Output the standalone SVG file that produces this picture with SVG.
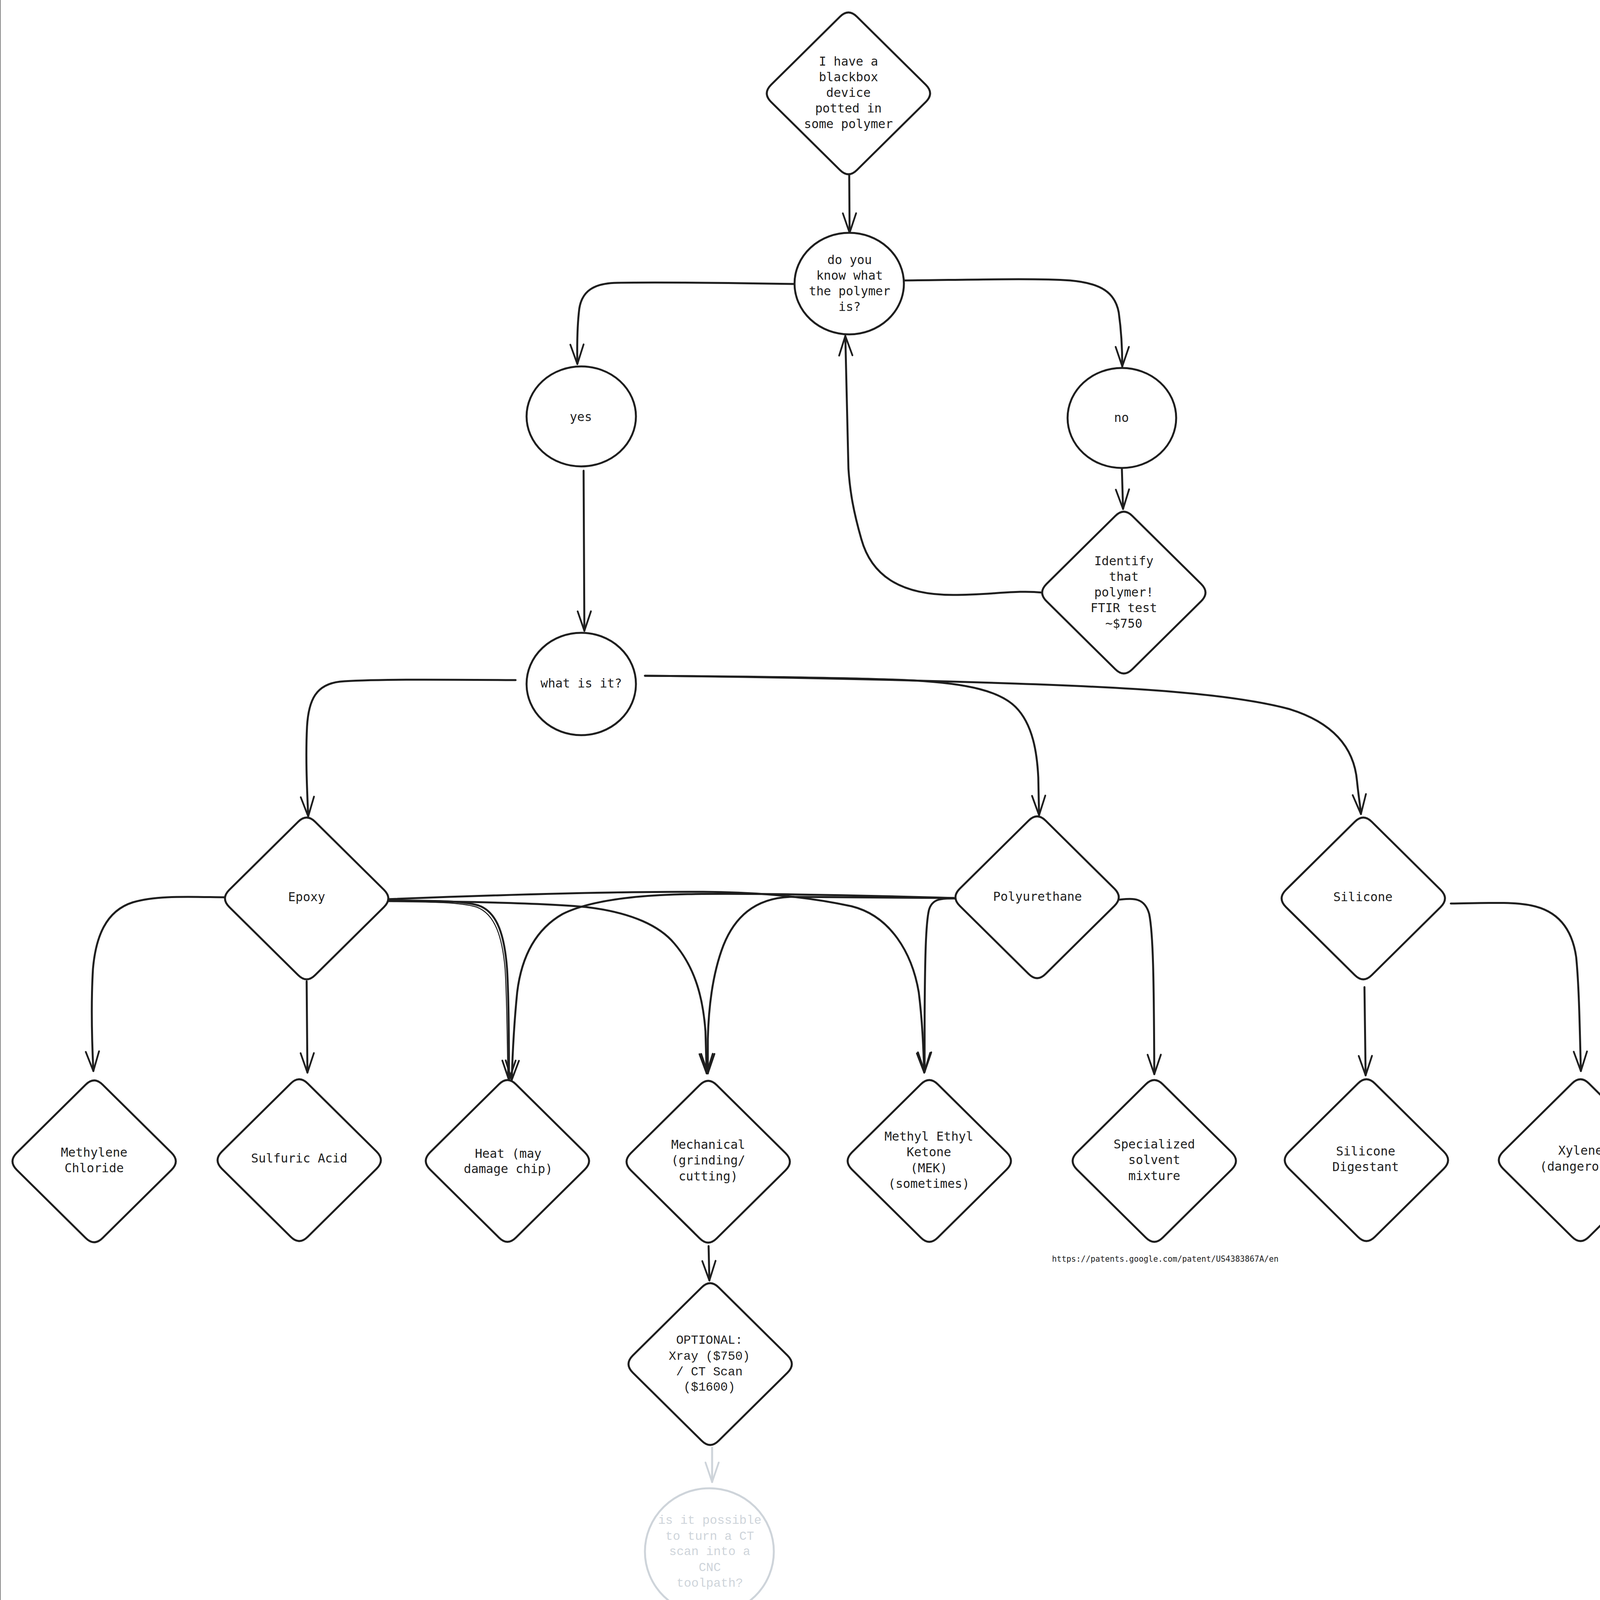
<svg xmlns="http://www.w3.org/2000/svg" xmlns:xlink="http://www.w3.org/1999/xlink" width="4287" height="4155" viewBox="0 0 4287 4155">
<style>
.sh{fill:#ffffff;stroke:#1e1e1e;stroke-width:5;stroke-linejoin:round}
.fs{fill:#ffffff;stroke:#ced4da;stroke-width:5}
.t{font-family:"DejaVu Sans Mono","Liberation Mono",monospace;font-size:31.5px;fill:#1e1e1e;text-anchor:middle}
.t2{font-family:"Liberation Mono","DejaVu Sans Mono",monospace;font-size:31.5px;fill:#1e1e1e;text-anchor:middle}
.tf{font-family:"Liberation Mono","DejaVu Sans Mono",monospace;font-size:31.5px;fill:#ced4da;text-anchor:middle}
.url{font-family:"DejaVu Sans Mono","Liberation Mono",monospace;font-size:20.5px;fill:#1e1e1e}
.c{fill:none;stroke:#1e1e1e;stroke-width:5;stroke-linecap:round;stroke-linejoin:round;marker-end:url(#ah)}
.cf{fill:none;stroke:#ced4da;stroke-width:5;stroke-linecap:round;marker-end:url(#ahf)}
</style>
<defs>
<path id="dia" d="M22,-196 L198,-22 Q220,0 198,22 L22,196 Q0,218 -22,196 L-198,22 Q-220,0 -198,-22 L-22,-196 Q0,-218 22,-196 Z"/>
<marker id="ah" markerUnits="userSpaceOnUse" markerWidth="120" markerHeight="120" viewBox="-60 -60 120 120" refX="0" refY="0" orient="auto" overflow="visible">
<path d="M-50,-17 L0,0 L-50,17" fill="none" stroke="#1e1e1e" stroke-width="4.5" stroke-linecap="round" stroke-linejoin="round"/>
</marker>
<marker id="ahf" markerUnits="userSpaceOnUse" markerWidth="120" markerHeight="120" viewBox="-60 -60 120 120" refX="0" refY="0" orient="auto" overflow="visible">
<path d="M-50,-17 L0,0 L-50,17" fill="none" stroke="#ced4da" stroke-width="4.5" stroke-linecap="round" stroke-linejoin="round"/>
</marker>
</defs>
<rect x="0" y="0" width="4287" height="4155" fill="#ffffff"/>
<line x1="1" y1="0" x2="1" y2="4155" stroke="#8a8a8a" stroke-width="2"/>
<line x1="4286" y1="0" x2="4286" y2="4155" stroke="#8a8a8a" stroke-width="2"/>

<g id="connectors">
<path class="c" d="M2174 448 L2175 596"/>
<path class="c" d="M2033 727 C1850 724 1700 722 1580 724 C1520 725 1490 745 1483 790 C1478 830 1477 880 1478 932"/>
<path class="c" d="M2316 718 C2500 716 2650 712 2740 718 C2820 725 2855 750 2864 800 C2871 850 2873 900 2873 938"/>
<path class="c" d="M1494 1205 L1496 1615"/>
<path class="c" d="M2872 1200 L2875 1303"/>
<path class="c" d="M2668 1517 C2600 1510 2540 1523 2440 1523 C2300 1523 2230 1470 2205 1380 C2185 1310 2176 1260 2172 1200 L2164 860"/>
<path class="c" d="M1320 1741 C1150 1740 950 1738 870 1745 C810 1752 790 1790 786 1860 C782 1940 786 2020 789 2090"/>
<path class="c" d="M1651 1730 C1950 1732 2200 1735 2340 1742 C2480 1750 2560 1770 2600 1810 C2645 1855 2655 1930 2658 1990 L2660 2087"/>
<path class="c" d="M1651 1730 C2000 1733 2300 1740 2600 1750 C2900 1760 3150 1775 3300 1815 C3430 1855 3468 1930 3474 2000 C3478 2040 3482 2060 3484 2084"/>
<path class="c" d="M574 2297 C480 2296 400 2292 340 2310 C270 2332 245 2400 238 2480 C232 2580 236 2680 239 2742"/>
<path class="c" d="M785 2512 L787 2746"/>
<path class="c" d="M993 2305 C1100 2306 1180 2305 1225 2318 C1275 2335 1292 2400 1298 2480 C1303 2560 1303 2680 1303 2765"/>
<path fill="none" stroke="#1e1e1e" stroke-width="2.5" d="M993 2308 C1100 2309 1175 2309 1220 2322 C1268 2340 1286 2400 1293 2480 C1298 2560 1299 2680 1300 2760"/>
<path class="c" d="M2442 2299 C2200 2292 1950 2286 1760 2289 C1600 2292 1500 2310 1440 2340 C1370 2380 1335 2450 1324 2540 C1316 2620 1312 2700 1310 2765"/>
<path class="c" d="M993 2306 C1200 2308 1400 2312 1500 2322 C1620 2336 1690 2372 1726 2415 C1782 2480 1800 2560 1806 2640 L1809 2748"/>
<path class="c" d="M2442 2299 L2022 2296 C1930 2300 1880 2350 1852 2420 C1823 2495 1814 2580 1812 2660 L1812 2748"/>
<path class="c" d="M991 2302 C1300 2290 1600 2282 1800 2283 C1950 2284 2080 2298 2180 2320 C2280 2345 2335 2440 2352 2540 C2362 2620 2364 2690 2366 2746"/>
<path class="c" d="M2444 2300 C2410 2300 2386 2300 2378 2330 C2370 2365 2368 2450 2367 2600 L2367 2744"/>
<path class="c" d="M2866 2303 C2900 2300 2930 2296 2942 2340 C2952 2390 2954 2500 2955 2750"/>
<path class="c" d="M3493 2527 L3496 2753"/>
<path class="c" d="M3714 2313 C3800 2312 3870 2308 3920 2318 C3990 2332 4025 2380 4035 2450 C4042 2520 4044 2620 4047 2742"/>
<path class="c" d="M1814 3190 L1816 3278"/>
<path class="cf" d="M1823 3706 L1823 3794"/>
</g>

<g id="n-start">
<use href="#dia" class="sh" x="2172" y="239"/>
<text class="t" x="2172" y="168">I have a</text>
<text class="t" x="2172" y="208">blackbox</text>
<text class="t" x="2172" y="248">device</text>
<text class="t" x="2172" y="288">potted in</text>
<text class="t" x="2172" y="328">some polymer</text>
</g>
<g id="n-know">
<ellipse class="sh" cx="2174" cy="726" rx="140" ry="130"/>
<text class="t" x="2175" y="676">do you</text>
<text class="t" x="2175" y="716">know what</text>
<text class="t" x="2175" y="756">the polymer</text>
<text class="t" x="2175" y="796">is?</text>
</g>
<g id="n-yes">
<ellipse class="sh" cx="1488" cy="1066" rx="140" ry="128"/>
<text class="t" x="1487" y="1078">yes</text>
</g>
<g id="n-no">
<ellipse class="sh" cx="2872" cy="1070" rx="139" ry="128"/>
<text class="t" x="2871" y="1080">no</text>
</g>
<g id="n-identify">
<use href="#dia" class="sh" x="2877" y="1517"/>
<text class="t" x="2877" y="1447">Identify</text>
<text class="t" x="2877" y="1487">that</text>
<text class="t" x="2877" y="1527">polymer!</text>
<text class="t" x="2877" y="1567">FTIR test</text>
<text class="t" x="2877" y="1607">~$750</text>
</g>
<g id="n-what">
<ellipse class="sh" cx="1488" cy="1751" rx="140" ry="131"/>
<text class="t" x="1488" y="1760">what is it?</text>
</g>
<g id="n-epoxy">
<use href="#dia" class="sh" x="785" y="2300"/>
<text class="t" x="785" y="2307">Epoxy</text>
</g>
<g id="n-polyurethane">
<use href="#dia" class="sh" x="2655" y="2297"/>
<text class="t" x="2656" y="2306">Polyurethane</text>
</g>
<g id="n-silicone">
<use href="#dia" class="sh" x="3490" y="2300"/>
<text class="t" x="3489" y="2307">Silicone</text>
</g>
<g id="n-methylene">
<use href="#dia" class="sh" x="241" y="2973"/>
<text class="t" x="241" y="2961">Methylene</text>
<text class="t" x="241" y="3001">Chloride</text>
</g>
<g id="n-sulfuric">
<use href="#dia" class="sh" x="766" y="2970"/>
<text class="t" x="766" y="2976">Sulfuric Acid</text>
</g>
<g id="n-heat">
<use href="#dia" class="sh" x="1299" y="2972"/>
<text class="t" x="1301" y="2964">Heat (may</text>
<text class="t" x="1301" y="3003">damage chip)</text>
</g>
<g id="n-mechanical">
<use href="#dia" class="sh" x="1813" y="2974"/>
<text class="t" x="1813" y="2941">Mechanical</text>
<text class="t" x="1813" y="2981">(grinding/</text>
<text class="t" x="1813" y="3022">cutting)</text>
</g>
<g id="n-mek">
<use href="#dia" class="sh" x="2379" y="2972"/>
<text class="t" x="2378" y="2920">Methyl Ethyl</text>
<text class="t" x="2378" y="2960">Ketone</text>
<text class="t" x="2378" y="3001">(MEK)</text>
<text class="t" x="2378" y="3041">(sometimes)</text>
</g>
<g id="n-specialized">
<use href="#dia" class="sh" x="2955" y="2972"/>
<text class="t" x="2955" y="2940">Specialized</text>
<text class="t" x="2955" y="2980">solvent</text>
<text class="t" x="2955" y="3021">mixture</text>
</g>
<g id="n-digestant">
<use href="#dia" class="sh" x="3498" y="2970"/>
<text class="t" x="3496" y="2958">Silicone</text>
<text class="t" x="3496" y="2998">Digestant</text>
</g>
<g id="n-xylene">
<use href="#dia" class="sh" x="4046" y="2970"/>
<text class="t" x="4046" y="2956">Xylene</text>
<text class="t" x="4046" y="2997">(dangerous)</text>
</g>
<g id="n-url">
<text class="url" x="2693" y="3230">https://patents.google.com/patent/US4383867A/en</text>
</g>
<g id="n-optional">
<use href="#dia" class="sh" x="1818" y="3492"/>
<text class="t2" x="1816" y="3440">OPTIONAL:</text>
<text class="t2" x="1816" y="3481">Xray ($750)</text>
<text class="t2" x="1816" y="3521">/ CT Scan</text>
<text class="t2" x="1816" y="3560">($1600)</text>
</g>
<g id="n-ctcnc">
<ellipse class="fs" cx="1816" cy="3972" rx="165" ry="162"/>
<text class="tf" x="1817" y="3901">is it possible</text>
<text class="tf" x="1817" y="3942">to turn a CT</text>
<text class="tf" x="1817" y="3981">scan into a</text>
<text class="tf" x="1817" y="4022">CNC</text>
<text class="tf" x="1817" y="4062">toolpath?</text>
</g>
</svg>
